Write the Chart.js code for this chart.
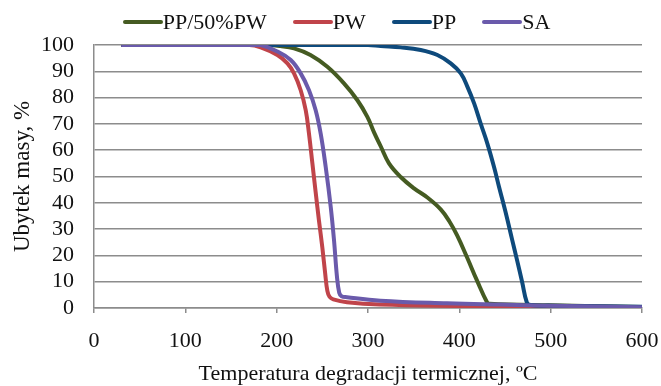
<!DOCTYPE html>
<html>
<head>
<meta charset="utf-8">
<script src="https://cdn.jsdelivr.net/npm/chart.js@4.4.1/dist/chart.umd.min.js"></script>
<style>
  html, body { margin: 0; padding: 0; background: #fff; }
  #wrap { position: relative; width: 661px; height: 386px; }
  #legend {
    position: absolute; left: 0; top: 0; width: 661px; height: 44px;
    padding-left: 12px; box-sizing: border-box;
    display: flex; justify-content: center; align-items: center;
    font-family: "Liberation Serif", "Times New Roman", serif; font-size: 22px; color: #111;
  }
  #legend .item { display: flex; align-items: center; margin: 0 13px; white-space: nowrap; }
  #legend .swatch { display: inline-block; width: 40px; height: 4px; border-radius: 2px; }
</style>
</head>
<body>
<div id="wrap">
  <canvas id="tgaChart" width="661" height="386"></canvas>
  <div id="legend"></div>
</div>
<script>
// ── TGA curves: temperature (ºC) vs mass (%) ─────────────
var seriesNames = ['PP/50%PW', 'PW', 'PP', 'SA'];

var tempMix = [30, 190, 204, 219, 237, 255.5, 273.7, 288.4, 299.3, 306.6, 313.9, 323, 335.8, 350.4, 365, 379.6, 389, 397.6, 408.4, 419.4, 430.3, 433, 500, 600];
var massMix = [100, 100, 99.6, 98.7, 96.2, 91.7, 85.4, 79, 72.7, 66.8, 61.5, 55, 49.8, 45.5, 42, 37.5, 33, 27.6, 19.3, 10.4, 2.2, 1.6, 1.0, 0.4];

var tempPW  = [30, 170, 182.5, 200.8, 211.8, 219, 226.3, 231.8, 235.4, 239.1, 242.7, 246.4, 250, 253, 255.5, 258, 262, 277, 313, 400, 500, 600];
var massPW  = [100, 100, 99.1, 96.2, 93, 89.2, 82.8, 75.2, 66.3, 55, 44, 33, 23, 13.5, 6.5, 4.2, 3.3, 2.2, 1.3, 0.8, 0.5, 0.2];

var tempPP  = [30, 300, 313.9, 335.8, 357.7, 376, 390.6, 401.6, 408.9, 416.2, 423.4, 430.7, 438, 443.5, 450.6, 457.8, 463, 468.7, 474, 478, 500, 600];
var massPP  = [100, 100, 99.6, 99.1, 98.1, 96.2, 93, 89.2, 84.1, 77.8, 70.1, 62.5, 53.6, 46, 36.5, 26, 18.5, 10, 2, 1.1, 0.9, 0.5];

var tempSA  = [30, 170, 182.5, 200.8, 215.4, 226.3, 235.4, 242.7, 248.2, 253.7, 259.2, 262.8, 266, 268.5, 271, 277, 313.5, 386.5, 445, 500, 600];
var massSA  = [100, 100, 100, 97.5, 94.3, 89.2, 82.8, 75.2, 66.3, 53.6, 38.4, 25.7, 12, 5.8, 4.5, 4.1, 2.8, 1.8, 1.3, 0.9, 0.3];

var xTicks = [0, 100, 200, 300, 400, 500, 600];
var yTicks = [0, 10, 20, 30, 40, 50, 60, 70, 80, 90, 100];

var colors = ['#455b22', '#c0444a', '#0e4a7c', '#6a5aab'];
var gridColor = '#8c8c8c';
var textColor = '#111';
var serif = '"Liberation Serif", "Times New Roman", serif';

function pairs(xs, ys) {
    return xs.map(function (x, i) { return { x: x, y: ys[i] }; });
}

var allTemps = [tempMix, tempPW, tempPP, tempSA];
var allMass  = [massMix, massPW, massPP, massSA];

var datasets = seriesNames.map(function (name, i) {
    return {
        label: name,
        data: pairs(allTemps[i], allMass[i]),
        borderColor: colors[i],
        backgroundColor: colors[i],
        borderWidth: 4,
        pointRadius: 0,
        fill: false,
        tension: 0.4,
        // later series are painted over earlier ones
        order: seriesNames.length - i
    };
});

// ── Legend: line swatch glued to the label ─────────────────
var legendEl = document.getElementById('legend');
seriesNames.forEach(function (name, i) {
    var item = document.createElement('span');
    item.className = 'item';
    var sw = document.createElement('span');
    sw.className = 'swatch';
    sw.style.background = colors[i];
    item.appendChild(sw);
    item.appendChild(document.createTextNode(name));
    legendEl.appendChild(item);
});

new Chart(document.getElementById('tgaChart'), {
    type: 'line',
    data: { datasets: datasets },
    options: {
        responsive: false,
        animation: false,
        layout: { padding: { left: 0, right: 19, top: 45, bottom: 0 } },
        plugins: {
            tooltip: { enabled: false },
            legend: { display: false }
        },
        scales: {
            x: {
                type: 'linear',
                min: 0,
                max: 600,
                afterBuildTicks: function (scale) {
                    scale.ticks = xTicks.map(function (v) { return { value: v }; });
                },
                afterFit: function (scale) {
                    scale.height = 78;
                    // let the last label hang into the right padding
                    scale.paddingLeft = 0;
                    scale.paddingRight = 0;
                },
                ticks: { font: { family: serif, size: 22 }, color: textColor, padding: 15, maxRotation: 0, autoSkip: false },
                grid: { drawOnChartArea: false, drawTicks: true, tickLength: 5, color: gridColor, lineWidth: 1.5 },
                border: { display: true, color: gridColor, width: 1.5 },
                title: {
                    display: true,
                    text: 'Temperatura degradacji termicznej, ºC',
                    font: { family: serif, size: 22, lineHeight: 1.05 },
                    color: textColor,
                    padding: { top: 0, bottom: 0 }
                }
            },
            y: {
                min: 0,
                max: 100,
                afterBuildTicks: function (scale) {
                    scale.ticks = yTicks.map(function (v) { return { value: v }; });
                },
                afterFit: function (scale) {
                    scale.width = 94;
                    scale.paddingTop = 0;
                    scale.paddingBottom = 0;
                },
                ticks: { font: { family: serif, size: 22 }, color: textColor, padding: 20, autoSkip: false },
                grid: { drawTicks: false, color: gridColor, lineWidth: 1.5 },
                border: { display: true, color: gridColor, width: 1.5 },
                title: {
                    display: true,
                    text: 'Ubytek masy, %',
                    font: { family: serif, size: 23 },
                    color: textColor,
                    padding: { top: 9, bottom: 0 }
                }
            }
        }
    }
});
</script>
</body>
</html>
